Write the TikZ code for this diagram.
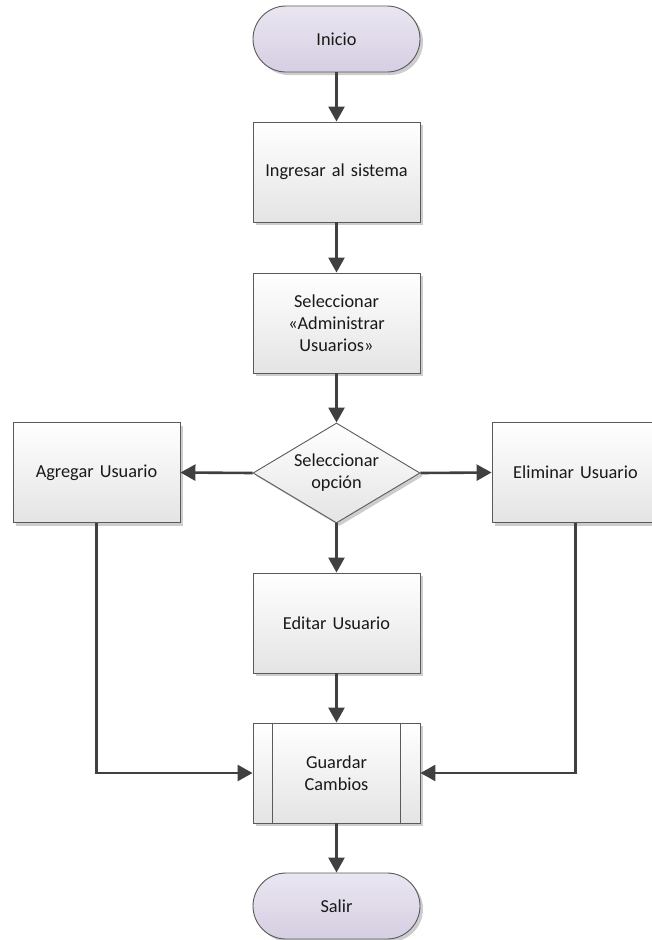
\documentclass[tikz,border=0pt]{standalone}
\usepackage{fontspec}
\setmainfont{Carlito}
\usetikzlibrary{shapes.geometric,arrows.meta,shadows,calc}
\definecolor{edgecol}{RGB}{90,90,90}
\definecolor{arrowcol}{RGB}{64,64,64}
\definecolor{termtop}{RGB}{234,230,241}
\definecolor{termbot}{RGB}{214,206,226}
\definecolor{boxtop}{RGB}{255,255,255}
\definecolor{boxbot}{RGB}{228,228,228}
\definecolor{shadowcol}{RGB}{205,205,205}
\tikzset{
  base/.style={draw=edgecol, line width=0.9pt, font=\fontsize{18.3}{22}\selectfont,
    text=black!90, align=center, inner sep=2pt,
    drop shadow={shadow xshift=3pt, shadow yshift=-3pt, fill=shadowcol, opacity=1}},
  terminal/.style={base, rectangle, rounded corners=33pt, minimum width=167pt, minimum height=66pt,
    top color=termtop, bottom color=termbot},
  procbox/.style={base, rectangle, minimum width=167pt, minimum height=100pt, text width=155pt,
    top color=boxtop, bottom color=boxbot},
  decision/.style={base, diamond, aspect=1.67, minimum width=167pt, minimum height=100pt, inner sep=0pt,
    top color=boxtop, bottom color=boxbot},
  flow/.style={draw=arrowcol, line width=2.6pt, -{Triangle[length=15pt,width=16pt]}},
}
\begin{document}
\begin{tikzpicture}[x=1pt,y=-1pt]
\useasboundingbox (0,0) rectangle (652,940);
\clip (0,0) rectangle (652,940);
\node[terminal] (inicio) at (336.5,39) {Inicio};
\node[procbox] (ingresar) at (336.5,172) {Ingresar al sistema};
\node[procbox] (admin) at (336.5,323) {Seleccionar\\«Administrar\\Usuarios»};
\node[decision] (opcion) at (336.5,473) {Seleccionar\\opción};
\node[procbox] (agregar) at (96.5,472.5) {Agregar Usuario};
\node[procbox] (eliminar) at (575.5,472.5) {Eliminar Usuario};
\node[procbox] (editar) at (336.5,623) {Editar Usuario};
\node[procbox] (guardar) at (336.5,773) {Guardar\\Cambios};
\draw[edgecol, line width=0.9pt] ([xshift=20pt]guardar.north west) -- ([xshift=20pt]guardar.south west);
\draw[edgecol, line width=0.9pt] ([xshift=-20pt]guardar.north east) -- ([xshift=-20pt]guardar.south east);
\node[terminal] (salir) at (336.5,906) {Salir};

\draw[flow] (inicio) -- (ingresar);
\draw[flow] (ingresar) -- (admin);
\draw[flow] (admin) -- (opcion);
\draw[flow] (opcion.west) -- (agregar.east);
\draw[flow] (opcion.east) -- (eliminar.west);
\draw[flow] (opcion.south) -- (editar.north);
\draw[flow] (editar) -- (guardar);
\draw[flow] (agregar.south) |- (guardar.west);
\draw[flow] (eliminar.south) |- (guardar.east);
\draw[flow] (guardar) -- (salir);
\end{tikzpicture}
\end{document}
